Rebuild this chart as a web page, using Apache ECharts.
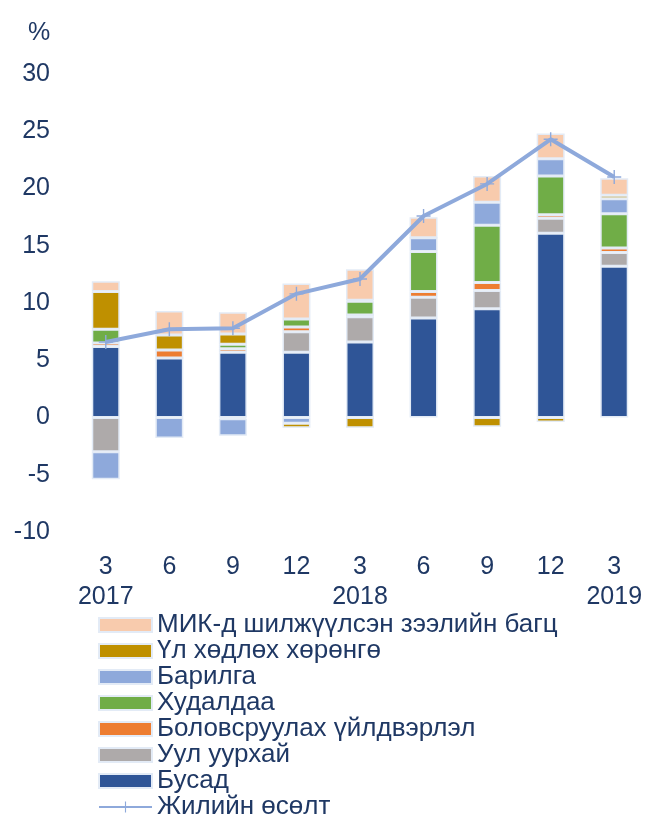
<!DOCTYPE html>
<html>
<head>
<meta charset="utf-8">
<script src="https://cdn.jsdelivr.net/npm/echarts@6/dist/echarts.min.js"></script>
<style>
  html, body { margin: 0; padding: 0; background: #fff; }
  #chart { width: 667px; height: 821px; }
</style>
</head>
<body>
<div id="chart"></div>
<script>
// category labels (month / year)
var categories = ['3\n2017', '6', '9', '12', '3\n2018', '6', '9', '12', '3\n2019']

// series values, %
var busad = [6.2, 5.2, 5.7, 5.7, 6.6, 8.7, 9.5, 16.1, 13.2]
var uulUurhai = [-3.0, 0, -0.1, 1.8, 2.2, 1.8, 1.6, 1.3, 1.2]
var bolovsruulah = [0.3, 0.7, 0.3, 0.4, 0.15, 0.5, 0.7, 0.3, 0.4]
var hudaldaa = [1.2, 0, 0.4, 0.7, 1.2, 3.5, 5.0, 3.4, 3.0]
var barilga = [-2.4, -1.8, -1.5, -0.5, 0.1, 1.2, 2.0, 1.5, 1.3]
var ulHodloh = [3.3, 1.3, 0.9, -0.4, -0.9, 0, -0.8, -0.4, 0.3]
var mik = [0.9, 2.1, 1.9, 3.1, 2.7, 1.8, 2.3, 2.2, 1.5]
var jiliinOsolt = [6.6, 7.7, 7.8, 10.8, 12.1, 17.6, 20.4, 24.3, 21.0]

var legendNames = ['МИК-д шилжүүлсэн зээлийн багц', 'Үл хөдлөх хөрөнгө', 'Барилга', 'Худалдаа',
    'Боловсруулах үйлдвэрлэл', 'Уул уурхай', 'Бусад', 'Жилийн өсөлт']

var textColor = '#1F3864'
var font = 'Liberation Sans, Arial, sans-serif'

function barSeries(name, data, color) {
    return {
        name: name,
        type: 'bar',
        stack: 'total',
        barWidth: 28,
        data: data,
        itemStyle: {
            color: color,
            borderColor: '#e3ebf6',
            borderWidth: 1.5
        }
    }
}

var chart = echarts.init(document.getElementById('chart'))
chart.setOption({
    animation: false,
    textStyle: { fontFamily: font },
    grid: { left: 74, right: 21, top: 74, bottom: 289 },
    graphic: [{
        type: 'text',
        left: 28,
        top: 21,
        style: { text: '%', fontSize: 25, fill: textColor, fontFamily: font }
    }],
    legend: {
        orient: 'vertical',
        left: 98,
        top: 612,
        height: 240,
        padding: 0,
        itemWidth: 53,
        itemHeight: 14,
        itemGap: 0,
        textStyle: { color: textColor, fontSize: 26, lineHeight: 26, fontFamily: font },
        data: legendNames.map(function (n, i) {
            return i < 7 ? { name: n, icon: 'rect' } : { name: n }
        })
    },
    xAxis: {
        type: 'category',
        data: categories,
        axisLine: { show: false },
        axisTick: { show: false },
        axisLabel: { color: textColor, fontSize: 25, lineHeight: 30, margin: 20, interval: 0 }
    },
    yAxis: {
        type: 'value',
        min: -10,
        max: 30,
        interval: 5,
        splitLine: { show: false },
        axisLine: { show: false },
        axisTick: { show: false },
        axisLabel: { color: textColor, fontSize: 25, margin: 24 }
    },
    series: [
        barSeries('Бусад', busad, '#2F5597'),
        barSeries('Уул уурхай', uulUurhai, '#AEAAAA'),
        barSeries('Боловсруулах үйлдвэрлэл', bolovsruulah, '#ED7D31'),
        barSeries('Худалдаа', hudaldaa, '#70AD47'),
        barSeries('Барилга', barilga, '#8EA9DB'),
        barSeries('Үл хөдлөх хөрөнгө', ulHodloh, '#BF9000'),
        barSeries('МИК-д шилжүүлсэн зээлийн багц', mik, '#F8CBAD'),
        {
            name: 'Жилийн өсөлт',
            type: 'line',
            data: jiliinOsolt,
            z: 5,
            symbol: 'path://M9,0h2v20h-2zM0,9h20v2h-20z',
            symbolSize: 14,
            lineStyle: { color: '#8EA9DB', width: 4 },
            itemStyle: { color: '#8EA9DB' }
        }
    ]
})
</script>
</body>
</html>
